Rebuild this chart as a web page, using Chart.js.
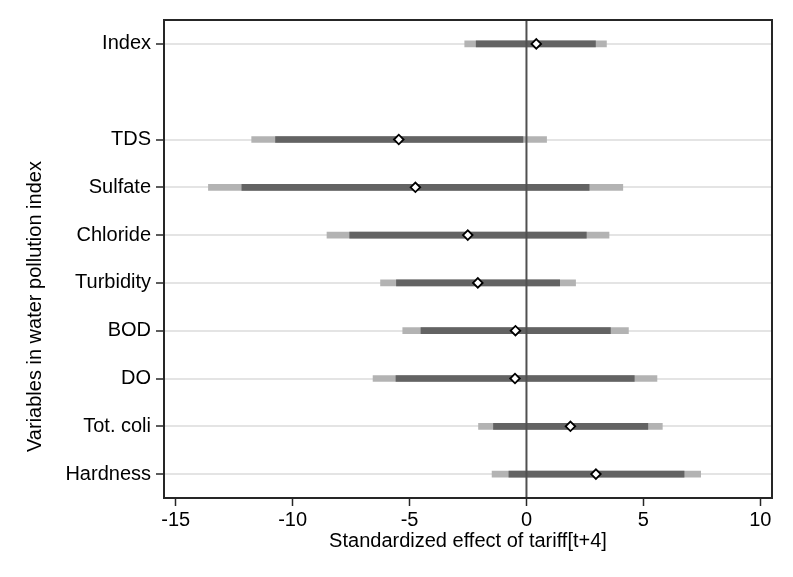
<!DOCTYPE html>
<html>
<head>
<meta charset="utf-8">
<script src="https://cdn.jsdelivr.net/npm/chart.js@4"></script>
<style>
html,body{margin:0;padding:0;background:#fff;}
#wrap{width:793px;height:577px;}
</style>
</head>
<body>
<div id="wrap"><canvas id="c" width="793" height="577"></canvas></div>
<script>
const categories = ['Index', '', 'TDS', 'Sulfate', 'Chloride', 'Turbidity', 'BOD', 'DO', 'Tot. coli', 'Hardness'];
const estimate = [0.42, null, -5.46, -4.75, -2.51, -2.08, -0.47, -0.49, 1.88, 2.97];
const ci90Low  = [-2.15, null, -10.73, -12.17, -7.56, -5.56, -4.51, -5.58, -1.41, -0.75];
const ci90High = [2.95, null, -0.15, 2.68, 2.56, 1.42, 3.59, 4.61, 5.19, 6.74];
const ci95Low  = [-2.64, null, -11.75, -13.6, -8.53, -6.24, -5.29, -6.56, -2.05, -1.47];
const ci95High = [3.42, null, 0.86, 4.12, 3.53, 2.10, 4.36, 5.58, 5.81, 7.45];
const xTicks = [-15, -10, -5, 0, 5, 10];
const yTitle = 'Variables in water pollution index';
const xTitle = 'Standardized effect of tariff[t+4]';

const FONT = "'Liberation Sans', Arial, sans-serif";
const pairs = (lo, hi) => lo.map((v, i) => v === null ? null : [v, hi[i]]);
const pts = categories.map((c, i) => estimate[i] === null ? null : {x: estimate[i], y: c}).filter(p => p);

const framePlugin = {
  id: 'frame',
  beforeDatasetDraw(chart, args) {
    if (args.index !== 2) return;
    const {ctx, chartArea: a, scales: {x}} = chart;
    const px = x.getPixelForValue(0);
    ctx.save();
    ctx.strokeStyle = '#505050';
    ctx.lineWidth = 2;
    ctx.beginPath();
    ctx.moveTo(px, a.top);
    ctx.lineTo(px, a.bottom);
    ctx.stroke();
    ctx.restore();
  },
  afterDraw(chart) {
    const {ctx, chartArea: a} = chart;
    ctx.save();
    ctx.strokeStyle = '#262626';
    ctx.lineWidth = 2;
    ctx.strokeRect(a.left, a.top, a.right - a.left, a.bottom - a.top);
    ctx.restore();
    // y-axis title, placed lower than centre as in the reference
    ctx.save();
    ctx.fillStyle = '#000';
    ctx.font = '20px ' + FONT;
    ctx.textAlign = 'left';
    ctx.textBaseline = 'middle';
    ctx.translate(35, a.bottom - 46);
    ctx.rotate(-Math.PI / 2);
    ctx.fillText(yTitle, 0, 0);
    ctx.restore();
  }
};

new Chart(document.getElementById('c'), {
  type: 'bar',
  data: {
    labels: categories,
    datasets: [
      {
        label: '95% CI',
        data: pairs(ci95Low, ci95High),
        backgroundColor: '#b3b3b3',
        barThickness: 6,
        grouped: false,
        borderWidth: 0,
        order: 3
      },
      {
        label: '90% CI',
        data: pairs(ci90Low, ci90High),
        backgroundColor: '#636363',
        barThickness: 6,
        grouped: false,
        borderWidth: 0,
        order: 2
      },
      {
        type: 'line',
        label: 'Estimate',
        data: pts,
        showLine: false,
        pointStyle: 'rectRot',
        pointRadius: 4.8,
        pointBackgroundColor: '#ffffff',
        pointBorderColor: '#000000',
        pointBorderWidth: 1.8,
        order: 1
      }
    ]
  },
  options: {
    indexAxis: 'y',
    responsive: false,
    animation: false,
    devicePixelRatio: 1,
    layout: {padding: {top: 20, right: 21, left: 23, bottom: 24}},
    plugins: {legend: {display: false}, tooltip: {enabled: false}},
    scales: {
      x: {
        type: 'linear',
        min: -15.5,
        max: 10.5,
        afterBuildTicks(scale) { scale.ticks = xTicks.map(v => ({value: v})); },
        afterFit(scale) { scale.height = 55; },
        border: {display: false},
        grid: {drawOnChartArea: false, drawTicks: true, tickLength: 8, tickColor: '#262626', tickWidth: 1.5},
        ticks: {color: '#000', font: {family: FONT, size: 20}, padding: 2, maxRotation: 0},
        title: {display: true, text: xTitle, color: '#000', font: {family: FONT, size: 20}, padding: {top: 0, bottom: 0}}
      },
      y: {
        type: 'category',
        offset: true,
        afterFit(scale) { scale.width = 141; },
        border: {display: false},
        grid: {
          offset: false,
          drawTicks: true,
          tickLength: 8,
          lineWidth: 2,
          tickWidth: 1.5,
          color: ctx => (ctx.tick && ctx.tick.label === '') ? 'rgba(0,0,0,0)' : '#e4e4e4',
          tickColor: ctx => (ctx.tick && ctx.tick.label === '') ? 'rgba(0,0,0,0)' : '#262626'
        },
        ticks: {color: '#000', font: {family: FONT, size: 20}, padding: 5, autoSkip: false},
        title: {display: false}
      }
    }
  },
  plugins: [framePlugin]
});
</script>
</body>
</html>
